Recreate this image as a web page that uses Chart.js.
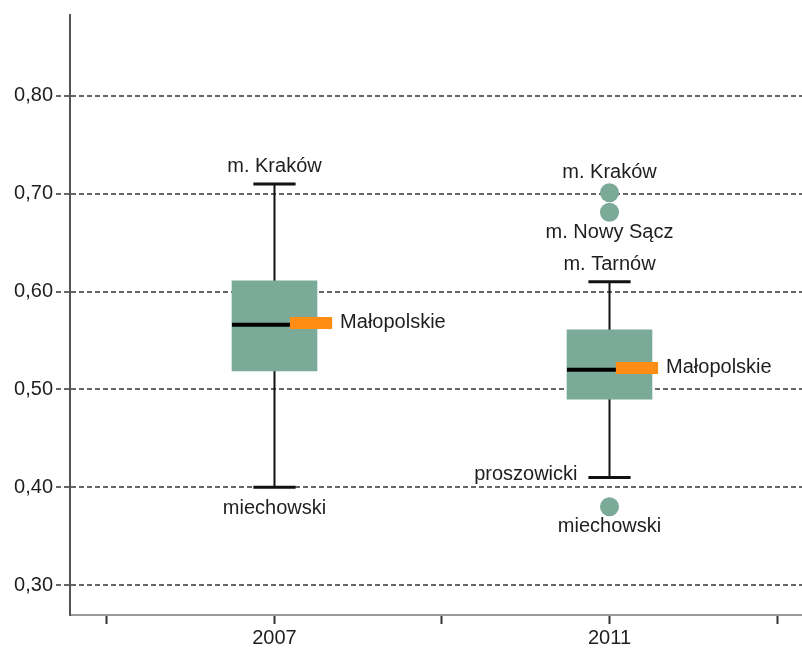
<!DOCTYPE html>
<html lang="pl">
<head>
    <meta charset="UTF-8">
    <title>Boxplot 2007 / 2011</title>
    <script src="https://cdn.jsdelivr.net/npm/chart.js"></script>
    <style>
        body {
            margin: 0;
            background: #fff;
        }
        #chart {
            display: block;
        }
    </style>
</head>
<body>
    <canvas id="chart" width="802" height="652"></canvas>

    <script>
        // Data
        const years = ['2007', '2011'];
        const q1 = [0.519, 0.490];
        const median = [0.566, 0.520];
        const q3 = [0.611, 0.561];
        const whiskerLow = [0.400, 0.410];
        const whiskerHigh = [0.710, 0.610];
        const whiskerLowNames = ['miechowski', 'proszowicki'];
        const whiskerHighNames = ['m. Kraków', 'm. Tarnów'];

        const outlierGroup = [1, 1, 1];
        const outlierValues = [0.701, 0.681, 0.380];
        const outlierNames = ['m. Kraków', 'm. Nowy Sącz', 'miechowski'];

        const regionName = 'Małopolskie';
        const regionValues = [0.568, 0.522];

        const yTicks = [0.3, 0.4, 0.5, 0.6, 0.7, 0.8];

        // Styling
        const boxColor = '#7baa98';
        const markColor = '#ff8c14';
        const textColor = '#1e1e1e';
        const boxHalf = 0.127;      // half box width, x units
        const capHalf = 0.063;
        const markShift = [0.109, 0.082];
        const lowPlace = ['below', 'left'];
        const outlierPlace = ['above', 'below', 'below'];

        Chart.defaults.font.family = "'Liberation Sans', Arial, sans-serif";
        Chart.defaults.font.size = 20;
        Chart.defaults.color = textColor;

        const xOf = i => i + 1;

        const datasets = [];

        // boxes
        datasets.push({
            type: 'bar',
            data: years.map((y, i) => ({ x: xOf(i), y: [q1[i], q3[i]] })),
            backgroundColor: boxColor,
            barThickness: 85,
            order: 4
        });

        years.forEach((y, i) => {
            const x = xOf(i);
            // whisker
            datasets.push({
                type: 'line',
                data: [{ x: x, y: whiskerLow[i] }, { x: x, y: whiskerHigh[i] }],
                borderColor: '#111', borderWidth: 2, pointRadius: 0, order: 5
            });
            // caps
            [whiskerLow[i], whiskerHigh[i]].forEach(v => {
                datasets.push({
                    type: 'line',
                    data: [{ x: x - capHalf, y: v }, { x: x + capHalf, y: v }],
                    borderColor: '#111', borderWidth: 3, borderCapStyle: 'butt', pointRadius: 0, order: 3
                });
            });
            // median
            datasets.push({
                type: 'line',
                data: [{ x: x - boxHalf, y: median[i] }, { x: x + boxHalf, y: median[i] }],
                borderColor: '#000', borderWidth: 4, borderCapStyle: 'butt', pointRadius: 0, order: 3
            });
            // Małopolskie marker
            const mx = x + markShift[i];
            datasets.push({
                type: 'line',
                data: [{ x: mx - capHalf, y: regionValues[i] }, { x: mx + capHalf, y: regionValues[i] }],
                borderColor: markColor, borderWidth: 12, borderCapStyle: 'butt', pointRadius: 0, order: 2
            });
        });

        // outliers
        datasets.push({
            type: 'scatter',
            data: outlierValues.map((v, k) => ({ x: xOf(outlierGroup[k]), y: v })),
            backgroundColor: boxColor,
            borderWidth: 0,
            pointRadius: 9.5,
            order: 1
        });

        // text labels next to the marks
        const labelPlugin = {
            id: 'labels',
            afterDatasetsDraw(chart) {
                const { ctx, scales: { x: xs, y: ys } } = chart;
                ctx.save();
                ctx.font = "20px 'Liberation Sans', Arial, sans-serif";
                ctx.fillStyle = textColor;
                ctx.textBaseline = 'middle';

                const put = (text, px, py, place, gap) => {
                    if (place === 'above') {
                        ctx.textAlign = 'center';
                        ctx.fillText(text, px, py - gap);
                    } else if (place === 'below') {
                        ctx.textAlign = 'center';
                        ctx.fillText(text, px, py + gap);
                    } else if (place === 'left') {
                        ctx.textAlign = 'right';
                        ctx.fillText(text, px - gap, py - 3);
                    } else {
                        ctx.textAlign = 'left';
                        ctx.fillText(text, px + gap, py);
                    }
                };

                years.forEach((y, i) => {
                    const px = xs.getPixelForValue(xOf(i));
                    put(whiskerHighNames[i], px, ys.getPixelForValue(whiskerHigh[i]), 'above', 17);
                    put(whiskerLowNames[i], px, ys.getPixelForValue(whiskerLow[i]),
                        lowPlace[i], lowPlace[i] === 'left' ? 32 : 21);
                    const mEnd = xs.getPixelForValue(xOf(i) + markShift[i] + capHalf);
                    put(regionName, mEnd, ys.getPixelForValue(regionValues[i]), 'right', 8);
                });

                outlierValues.forEach((v, k) => {
                    const px = xs.getPixelForValue(xOf(outlierGroup[k]));
                    put(outlierNames[k], px, ys.getPixelForValue(v), outlierPlace[k], 20);
                });
                ctx.restore();
            }
        };

        new Chart(document.getElementById('chart'), {
            data: { datasets },
            plugins: [labelPlugin],
            options: {
                responsive: false,
                animation: false,
                layout: {
                    autoPadding: false,
                    padding: { top: 14, right: 0, left: 0, bottom: 0 }
                },
                plugins: {
                    legend: { display: false },
                    tooltip: { enabled: false }
                },
                scales: {
                    x: {
                        type: 'linear',
                        offset: false,
                        min: 0.3896,
                        max: 2.5746,
                        afterFit: s => {
                            s.height = 37;
                            s.paddingLeft = 0;
                            s.paddingRight = 0;
                        },
                        afterBuildTicks: s => { s.ticks = [0.5, 1, 1.5, 2, 2.5].map(v => ({ value: v })); },
                        grid: {
                            offset: false,
                            drawOnChartArea: false,
                            tickLength: 9,
                            tickColor: '#333',
                            tickWidth: 2
                        },
                        border: { color: '#9a9a9a', width: 2 },
                        ticks: {
                            autoSkip: false,
                            maxRotation: 0,
                            padding: 2,
                            callback: v => Number.isInteger(v) ? years[v - 1] : ''
                        }
                    },
                    y: {
                        type: 'linear',
                        min: 0.2694,
                        max: 0.8827,
                        afterFit: s => { s.width = 70; },
                        afterBuildTicks: s => { s.ticks = yTicks.map(v => ({ value: v })); },
                        grid: {
                            color: '#666',
                            lineWidth: 2,
                            tickLength: 14,
                            tickColor: '#666',
                            tickWidth: 2,
                            tickBorderDash: [5, 3]
                        },
                        border: { color: '#555', width: 2, dash: [5, 3] },
                        ticks: {
                            padding: 3,
                            callback: v => v.toFixed(2).replace('.', ',')
                        }
                    }
                }
            }
        });
    </script>
</body>
</html>
